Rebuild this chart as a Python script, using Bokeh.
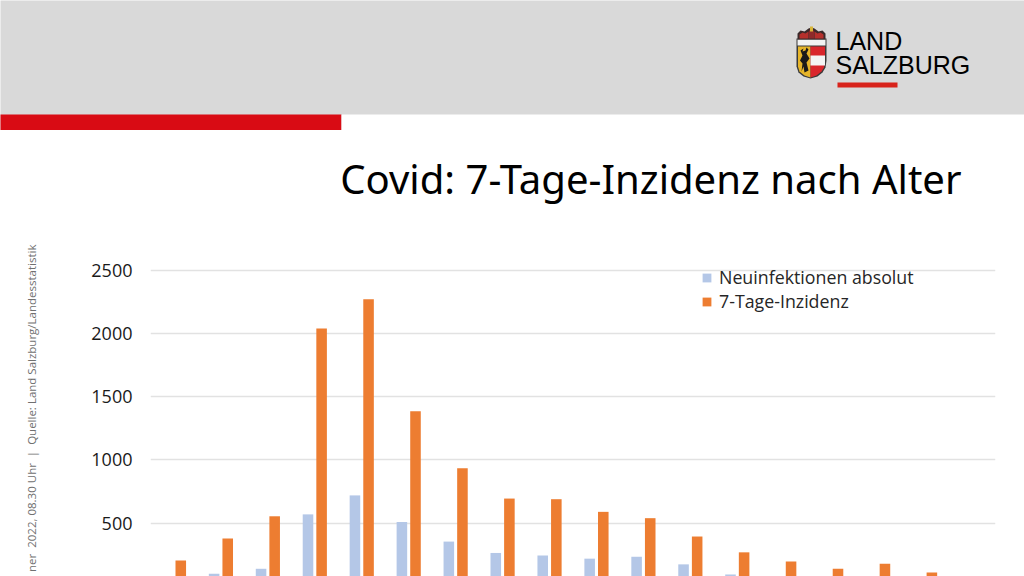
from bokeh.plotting import figure
from bokeh.layouts import column, row
from bokeh.models import Range1d, Legend, LegendItem, FixedTicker, ColumnDataSource
from bokeh.core.properties import value
from bokeh.transform import dodge
from bokeh.embed import file_html
from bokeh.resources import INLINE
import math

age_groups = ["0-4","5-9","10-14","15-19","20-24","25-29","30-34","35-39","40-44",
              "45-49","50-54","55-59","60-64","65-69","70-74","75-79","80-84","85+"]
neuinfektionen = [40,100,140,570,720,510,355,265,245,220,235,175,95,60,40,30,25,15]
inzidenz = [205,380,555,2040,2270,1385,935,695,690,590,540,395,270,197,140,180,110,60]
y_ticks = [500,1000,1500,2000,2500]
title = "Covid: 7-Tage-Inzidenz nach Alter"
gap = "\u00a0\u00a0"
side_note = f"ner{gap}2022, 08.30 Uhr{gap}|{gap}Quelle: Land Salzburg/Landesstatistik"

W, H = 1024, 576
BAND_H = 130
HEAD_H = 243
LEFT_W = 60

def canvas(w, h, x0=0, y0=0, fill="white"):
    f = figure(width=w, height=h, output_backend="svg", toolbar_location=None,
               x_range=Range1d(x0, x0 + w), y_range=Range1d(y0 + h, y0),
               min_border=0, outline_line_color=None, x_axis_location=None, y_axis_location=None,
               border_fill_color=fill, background_fill_color=fill, margin=0)
    f.grid.visible = False
    return f

def label(f, x, y, t, size, font, color="#000000", align="left", angle=0):
    f.text(x=[x], y=[y], text=[t], text_font_size=value(size), text_font=value(font), text_color=color,
           text_align=align, text_baseline="alphabetic", angle=angle)

# header: page furniture
band = canvas(W, BAND_H, fill="#d9d9d9")
def box(l, r, t, b, c):
    band.quad(left=[l], right=[r], top=[t], bottom=[b], fill_color=c, line_color=None)
def poly(xs, ys, c):
    band.patch(xs, ys, fill_color=c, line_color=None)

box(-3, 341, 114, BAND_H + 3, "#d90b14")
box(341, W + 3, 114, BAND_H + 3, "#ffffff")
label(band, 835, 40, "LAND", "25px", "Liberation Sans", "#000000")
label(band, 835, 64, "SALZBURG", "25px", "Liberation Sans", "#000000")
box(837, 897, 82, 87, "#d8231b")

# crest
poly([796,796,798,803,810,817,822,825,826,826], [38,66,72,76,78,76,72,67,60,38], "#3a3a3a")
poly([797.5,797.5,799,804,810,810], [46,66,71,75,77,46], "#e6b52a")
poly([810,810,816,821,823.5,824.5,824.5], [46,77,75,71,67,60,46], "#d9262c")
box(810, 824.5, 55, 65, "#f4f4f4")
box(797, 825, 39, 45, "#f2f2f2")
poly([797,797,800,804,808,811,814,818,822,825,825], [39,33,30,31,28,27,28,31,30,33,39], "#3b2a2a")
poly([799,799,802,805,808,808], [38,34,32,33,31,38], "#b5302c")
poly([814,814,817,820,823,823], [38,31,33,32,34,38], "#b5302c")
box(808.5, 813.5, 30, 38, "#8e2a2a")
box(809.5, 812.5, 26, 31, "#d8b53a")
poly([800,803,802,805,806,808,806,809,806,808,804,803,801,802,799.5,802], [50,48,51,50,47,49,53,58,62,70,72,66,71,63,60,55], "#1a1a1a")

head = canvas(W, HEAD_H - BAND_H, 0, BAND_H)
label(head, 961, 178, title, "40.1px", "Noto Sans", align="right")

# left strip with the rotated source note
side = canvas(LEFT_W, H - HEAD_H, 0, HEAD_H)
label(side, 30.5, 244, side_note, "11.5px", "Open Sans", "#707070", align="right", angle=math.pi/2)

# chart
p = figure(width=W - LEFT_W, height=H - HEAD_H, output_backend="svg", toolbar_location=None,
           x_range=Range1d(-0.5, 17.5), y_range=Range1d(79, 2711),
           min_border_left=150 - LEFT_W, min_border_right=29, min_border_top=0, min_border_bottom=0,
           margin=0, outline_line_color=None, x_axis_location=None,
           background_fill_color="white", border_fill_color="white")
p.xgrid.visible = False
p.ygrid.grid_line_color = "#e2e2e2"
p.ygrid.grid_line_width = 1.3
ax = p.yaxis[0]
ax.ticker = FixedTicker(ticks=y_ticks)
ax.axis_line_color = None
ax.major_tick_line_color = None
ax.minor_tick_line_color = None
ax.major_tick_out = 0
ax.major_label_text_font = "Open Sans"
ax.major_label_text_font_size = "18px"
ax.major_label_text_color = "#1a1a1a"
ax.major_label_standoff = 18

src = ColumnDataSource(dict(x=list(range(len(age_groups))), a=neuinfektionen, b=inzidenz))
r1 = p.vbar(x=dodge("x", -0.145, range=p.x_range), top="a", width=0.225, bottom=0, source=src,
            fill_color="#b4c7e7", line_color=None)
r2 = p.vbar(x=dodge("x", 0.145, range=p.x_range), top="b", width=0.225, bottom=0, source=src,
            fill_color="#ed7d31", line_color=None)

legend = Legend(items=[LegendItem(label="Neuinfektionen absolut", renderers=[r1]),
                       LegendItem(label="7-Tage-Inzidenz", renderers=[r2])],
                location=(551, 263), background_fill_alpha=0, border_line_color=None,
                label_text_font="Open Sans", label_text_font_size="17.8px", label_text_color="#262626",
                glyph_width=11, glyph_height=11, label_standoff=7, spacing=-3, padding=0, margin=0)
p.add_layout(legend, "center")

layout = column(band, head, row(side, p, spacing=0, margin=0), spacing=0, margin=0)
open("out.html", "w").write(file_html(layout, INLINE))
